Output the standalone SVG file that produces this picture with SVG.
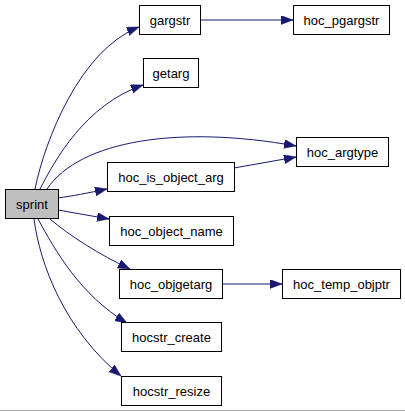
<svg xmlns="http://www.w3.org/2000/svg" width="405" height="411" viewBox="0 0 405 411">
<style>
.n rect{fill:#fff;stroke:#000;stroke-width:1}
.n text{font-family:"Liberation Sans",Arial,sans-serif;font-size:13px;text-anchor:middle;fill:#000}
#sprint rect{fill:#bfbfbf}
#edges path{fill:none;stroke:#191970;stroke-width:1;marker-end:url(#ah)}
</style>
<defs>
<marker id="ah" markerUnits="userSpaceOnUse" markerWidth="14" markerHeight="10" refX="12" refY="4.5" orient="auto">
<path d="M0,0 L12,4.5 L0,9 z" fill="#191970" stroke="#191970" stroke-width="0.5"/>
</marker>
</defs>
<rect width="405" height="411" fill="#fff"/>
<g id="edges">
<path d="M35,189 C45,140 80,50 139,27"/>
<path d="M40,189 C55,160 85,105 143,85"/>
<path d="M47,189 C80,140 180,125 296,146"/>
<path d="M58,198 C72,196 88,193 107,189"/>
<path d="M234,168 C255,164 275,161 296,157"/>
<path d="M58,210 C75,213 92,216 109,219"/>
<path d="M50,219 C70,236 100,255 130,269"/>
<path d="M222,284 L282,284"/>
<path d="M38,219 C55,250 80,295 127,323"/>
<path d="M34,219 C40,265 65,330 121,376"/>
<path d="M201,20 L293,20"/>
</g>
<g id="sprint" class="n"><rect x="5.5" y="189.5" width="53" height="29"/><text x="32" y="208.5">sprint</text></g>
<g id="gargstr" class="n"><rect x="139.5" y="5.5" width="61" height="29"/><text x="170" y="24.5">gargstr</text></g>
<g id="getarg" class="n"><rect x="143.5" y="58.5" width="55" height="29"/><text x="171" y="77.5">getarg</text></g>
<g id="hoc_pgargstr" class="n"><rect x="293.5" y="5.5" width="96" height="29"/><text x="341.5" y="24.5">hoc_pgargstr</text></g>
<g id="hoc_argtype" class="n"><rect x="296.5" y="137.5" width="92" height="29"/><text x="342.5" y="156.5">hoc_argtype</text></g>
<g id="hoc_is_object_arg" class="n"><rect x="107.5" y="162.5" width="127" height="29"/><text x="171" y="181.5">hoc_is_object_arg</text></g>
<g id="hoc_object_name" class="n"><rect x="109.5" y="216.5" width="124" height="29"/><text x="171.5" y="235.5">hoc_object_name</text></g>
<g id="hoc_objgetarg" class="n"><rect x="119.5" y="269.5" width="103" height="29"/><text x="171" y="288.5">hoc_objgetarg</text></g>
<g id="hoc_temp_objptr" class="n"><rect x="282.5" y="269.5" width="118" height="29"/><text x="341.5" y="288.5">hoc_temp_objptr</text></g>
<g id="hocstr_create" class="n"><rect x="121.5" y="322.5" width="100" height="29"/><text x="171.5" y="341.5">hocstr_create</text></g>
<g id="hocstr_resize" class="n"><rect x="121.5" y="376.5" width="100" height="29"/><text x="171.5" y="395.5">hocstr_resize</text></g>
<line x1="0" y1="410.5" x2="405" y2="410.5" stroke="#a8a8a8" stroke-width="1"/>
</svg>
